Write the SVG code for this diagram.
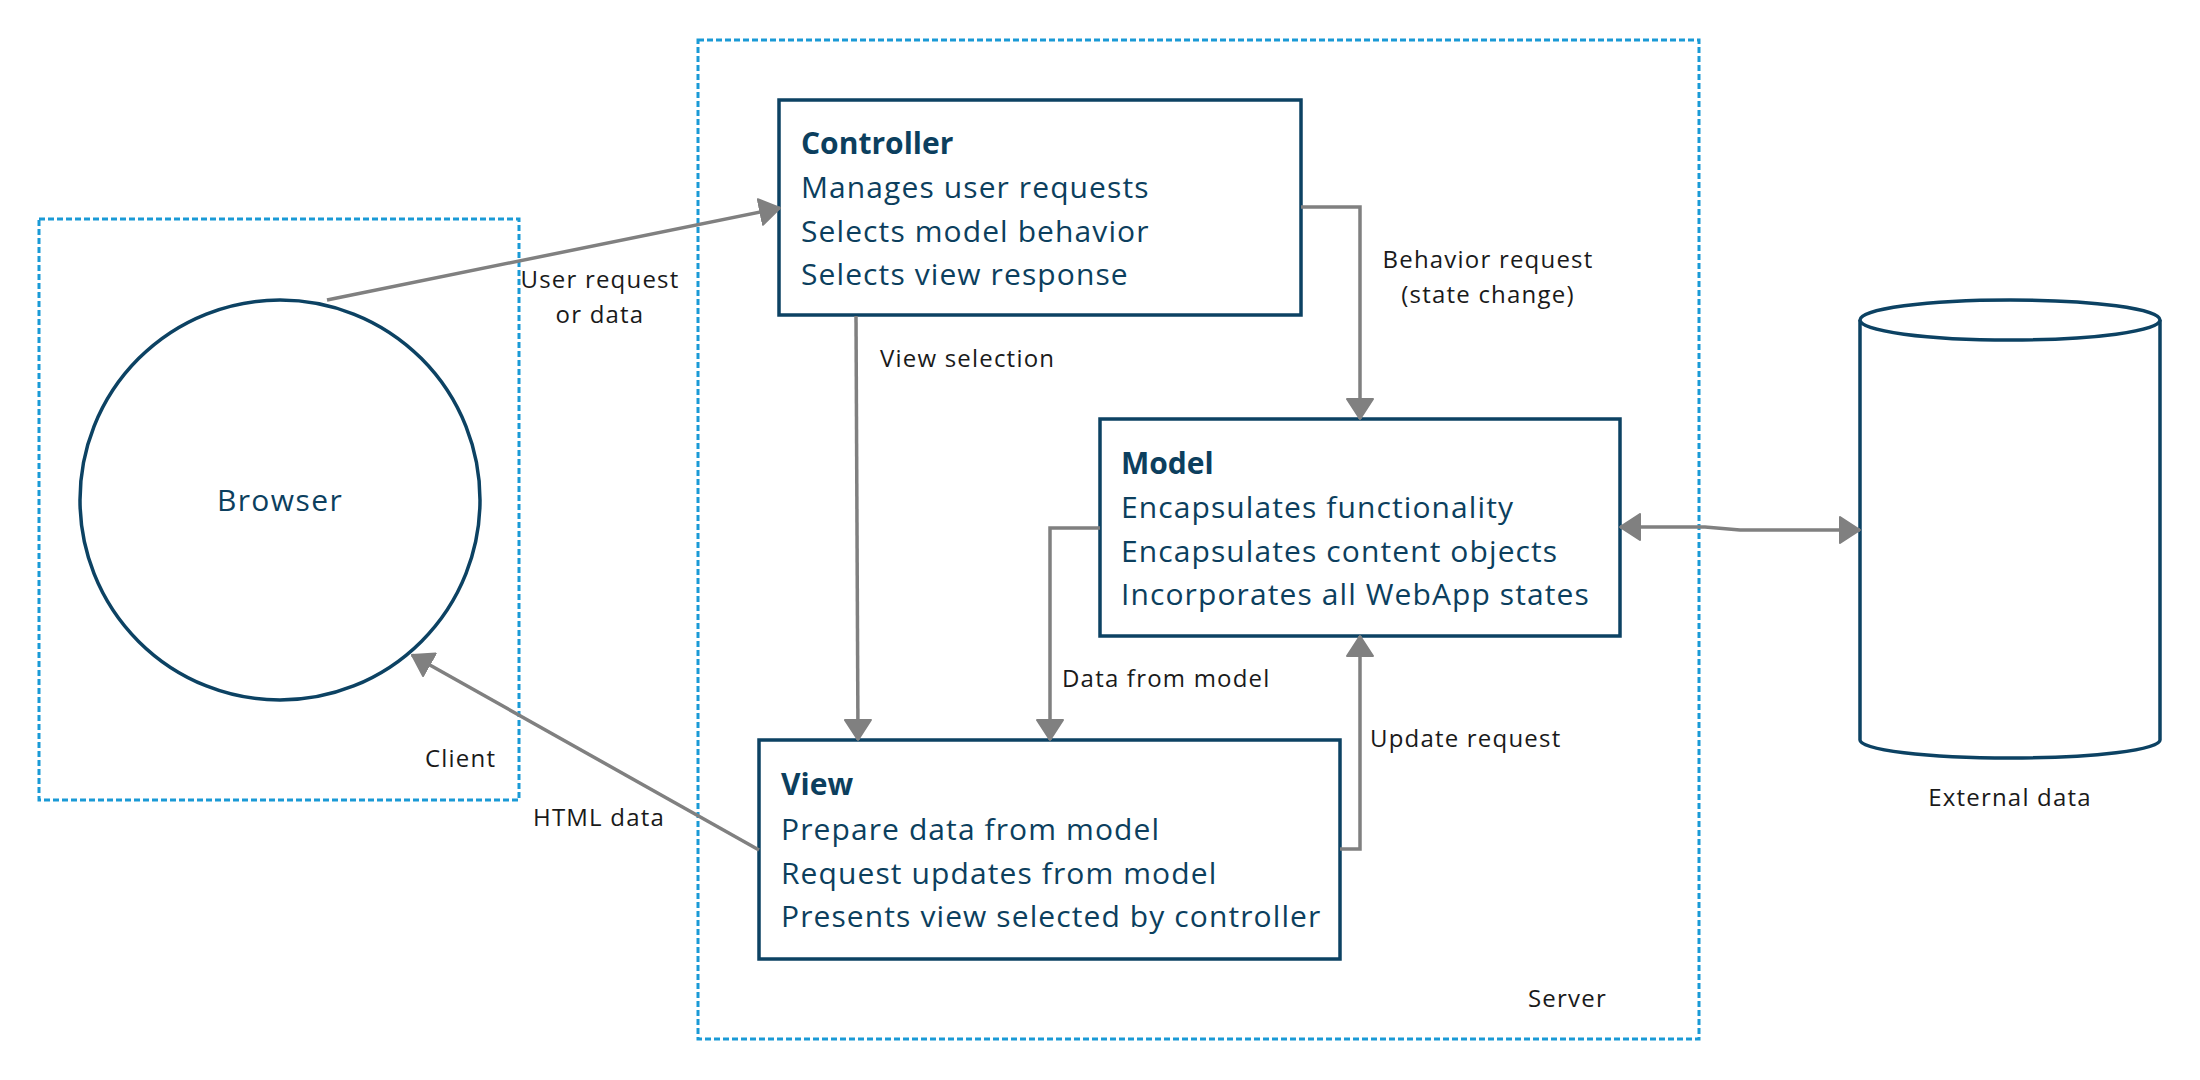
<svg xmlns="http://www.w3.org/2000/svg" width="2200" height="1080" viewBox="0 0 2200 1080">
  <style>
    .container { fill: none; stroke: #1a9ad6; stroke-width: 3; stroke-dasharray: 6 3; }
    .box { fill: #ffffff; stroke: #0c4263; stroke-width: 3.5; }
    .shape { fill: #ffffff; stroke: #0c4263; stroke-width: 3.5; }
    .title { font-family: "Open Sans", "Noto Sans", sans-serif; font-size: 30px; font-weight: bold; fill: #0c3f5e; }
    .body { font-family: "Open Sans", "Noto Sans", sans-serif; font-size: 30px; letter-spacing: 1.1px; fill: #0c3f5e; }
    .label { font-family: "Open Sans", "Noto Sans", sans-serif; font-size: 24px; letter-spacing: 1.2px; fill: #1a1a1a; }
    .conn { fill: none; stroke: #808080; stroke-width: 3.5; }
  </style>
  <defs>
    <marker id="arrow" viewBox="0 0 22 28" refX="21" refY="14" markerWidth="22" markerHeight="28" markerUnits="userSpaceOnUse" orient="auto-start-reverse">
      <path d="M1,1 L21,14 L1,27 Z" fill="#808080" stroke="#808080" stroke-width="2" stroke-linejoin="round"/>
    </marker>
  </defs>
  <rect width="2200" height="1080" fill="#ffffff"/>

  <g id="server-container">
    <rect class="container" x="698" y="40" width="1001" height="999"/>
    <text class="label" x="1528" y="1007">Server</text>
  </g>
  <g id="client-container">
    <rect class="container" x="39" y="219" width="480" height="581"/>
    <text class="label" x="425" y="767">Client</text>
  </g>

  <g id="browser">
    <circle class="shape" cx="280" cy="500" r="200"/>
    <text class="body" x="280" y="511" text-anchor="middle" style="letter-spacing:1.4px">Browser</text>
  </g>

  <g id="controller">
    <rect class="box" x="779" y="100" width="522" height="215"/>
    <text class="title" x="801" y="154">Controller</text>
    <text class="body" x="801" y="198">Manages user requests</text>
    <text class="body" x="801" y="242">Selects model behavior</text>
    <text class="body" x="801" y="285">Selects view response</text>
  </g>

  <g id="model">
    <rect class="box" x="1100" y="419" width="520" height="217"/>
    <text class="title" x="1121" y="474">Model</text>
    <text class="body" x="1121" y="518">Encapsulates functionality</text>
    <text class="body" x="1121" y="562">Encapsulates content objects</text>
    <text class="body" x="1121" y="605">Incorporates all WebApp states</text>
  </g>

  <g id="view">
    <rect class="box" x="759" y="740" width="581" height="219"/>
    <text class="title" x="781" y="795">View</text>
    <text class="body" x="781" y="840">Prepare data from model</text>
    <text class="body" x="781" y="884">Request updates from model</text>
    <text class="body" x="781" y="927">Presents view selected by controller</text>
  </g>

  <g id="external-data">
    <path class="shape" d="M1860,320 L1860,740 A150,18 0 0 0 2160,740 L2160,320"/>
    <ellipse class="shape" cx="2010" cy="320" rx="150" ry="20"/>
    <text class="label" x="2010" y="806" text-anchor="middle">External data</text>
  </g>

  <g id="connectors">
    <path class="conn" d="M327,300 L780,208" marker-end="url(#arrow)"/>
    <path class="conn" d="M759,850 L412,655" marker-end="url(#arrow)"/>
    <path class="conn" d="M856,316 L858,740" marker-end="url(#arrow)"/>
    <path class="conn" d="M1301,207 H1360 V419" marker-end="url(#arrow)"/>
    <path class="conn" d="M1100,528 H1050 V740" marker-end="url(#arrow)"/>
    <path class="conn" d="M1340,849 H1360 V636" marker-end="url(#arrow)"/>
    <path class="conn" d="M1620,527 H1705 L1740,530 H1860" marker-start="url(#arrow)" marker-end="url(#arrow)"/>

    <text class="label" x="600" y="288" text-anchor="middle">User request</text>
    <text class="label" x="600" y="323" text-anchor="middle">or data</text>
    <text class="label" x="533" y="826">HTML data</text>
    <text class="label" x="880" y="367">View selection</text>
    <text class="label" x="1488" y="268" text-anchor="middle">Behavior request</text>
    <text class="label" x="1488" y="303" text-anchor="middle">(state change)</text>
    <text class="label" x="1062" y="687">Data from model</text>
    <text class="label" x="1370" y="747">Update request</text>
  </g>
</svg>
